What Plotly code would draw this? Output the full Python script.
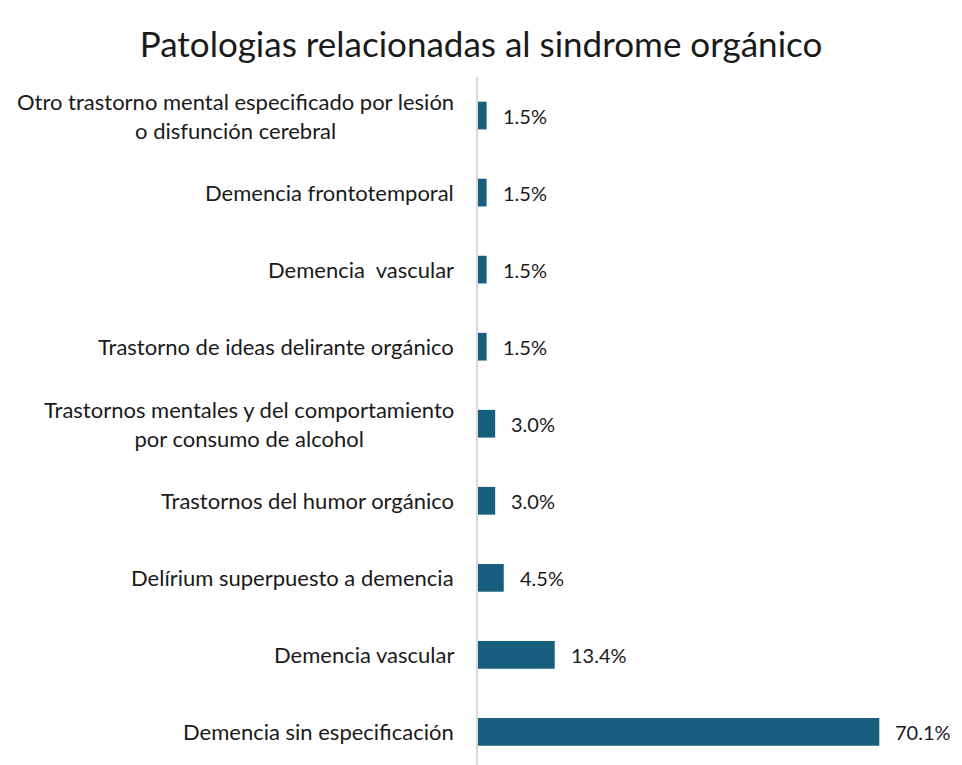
import plotly.graph_objects as go

categories = [
    "Demencia sin especificación",
    "Demencia vascular",
    "Delírium superpuesto a demencia",
    "Trastornos del humor orgánico",
    "Trastornos mentales y del comportamiento<br>por consumo de alcohol",
    "Trastorno de ideas delirante orgánico",
    "Demencia  vascular",
    "Demencia frontotemporal",
    "Otro trastorno mental especificado por lesión<br>o disfunción cerebral",
]
values = [70.1, 13.4, 4.5, 3.0, 3.0, 1.5, 1.5, 1.5, 1.5]
value_labels = ["70.1%", "13.4%", "4.5%", "3.0%", "3.0%", "1.5%", "1.5%", "1.5%", "1.5%"]

FONT = "Lato"
BAR = "#185f7f"
TXT = "#1a1a1a"

y_idx = list(range(len(categories)))

fig = go.Figure()
fig.add_trace(go.Bar(
    x=values, y=y_idx, orientation="h",
    marker=dict(color=BAR, line=dict(width=0)),
    width=0.36, hoverinfo="skip",
))

annotations = []
for i, (c, v, t) in enumerate(zip(categories, values, value_labels)):
    annotations.append(dict(
        x=0, y=i, xref="x", yref="y", text=c, showarrow=False,
        xanchor="right", yanchor="middle", align="center", xshift=-22,
        font=dict(family=FONT, size=22, color=TXT),
    ))
    annotations.append(dict(
        x=v, y=i, xref="x", yref="y", text=t, showarrow=False,
        xanchor="left", yanchor="middle", xshift=14,
        font=dict(family=FONT, size=20, color=TXT),
    ))

fig.update_layout(
    width=962, height=765,
    paper_bgcolor="white", plot_bgcolor="white",
    margin=dict(l=478, r=26, t=77, b=0),
    showlegend=False,
    title=dict(
        text="Patologias relacionadas al sindrome orgánico",
        x=0.5, xanchor="center", y=1 - 45 / 765, yanchor="middle",
        font=dict(family=FONT, size=35, color=TXT),
    ),
    xaxis=dict(range=[0, 80], showgrid=False, zeroline=False, showticklabels=False,
               showline=False, ticks=""),
    yaxis=dict(range=[-0.429, 8.5], showgrid=False, zeroline=False, showticklabels=False,
               showline=True, linecolor="#d9d9d9", linewidth=2, ticks=""),
    annotations=annotations,
)

fig.write_html("out.html", config={"displayModeBar": False},
               post_script="document.body.style.margin='0';document.body.style.overflow='hidden';")
